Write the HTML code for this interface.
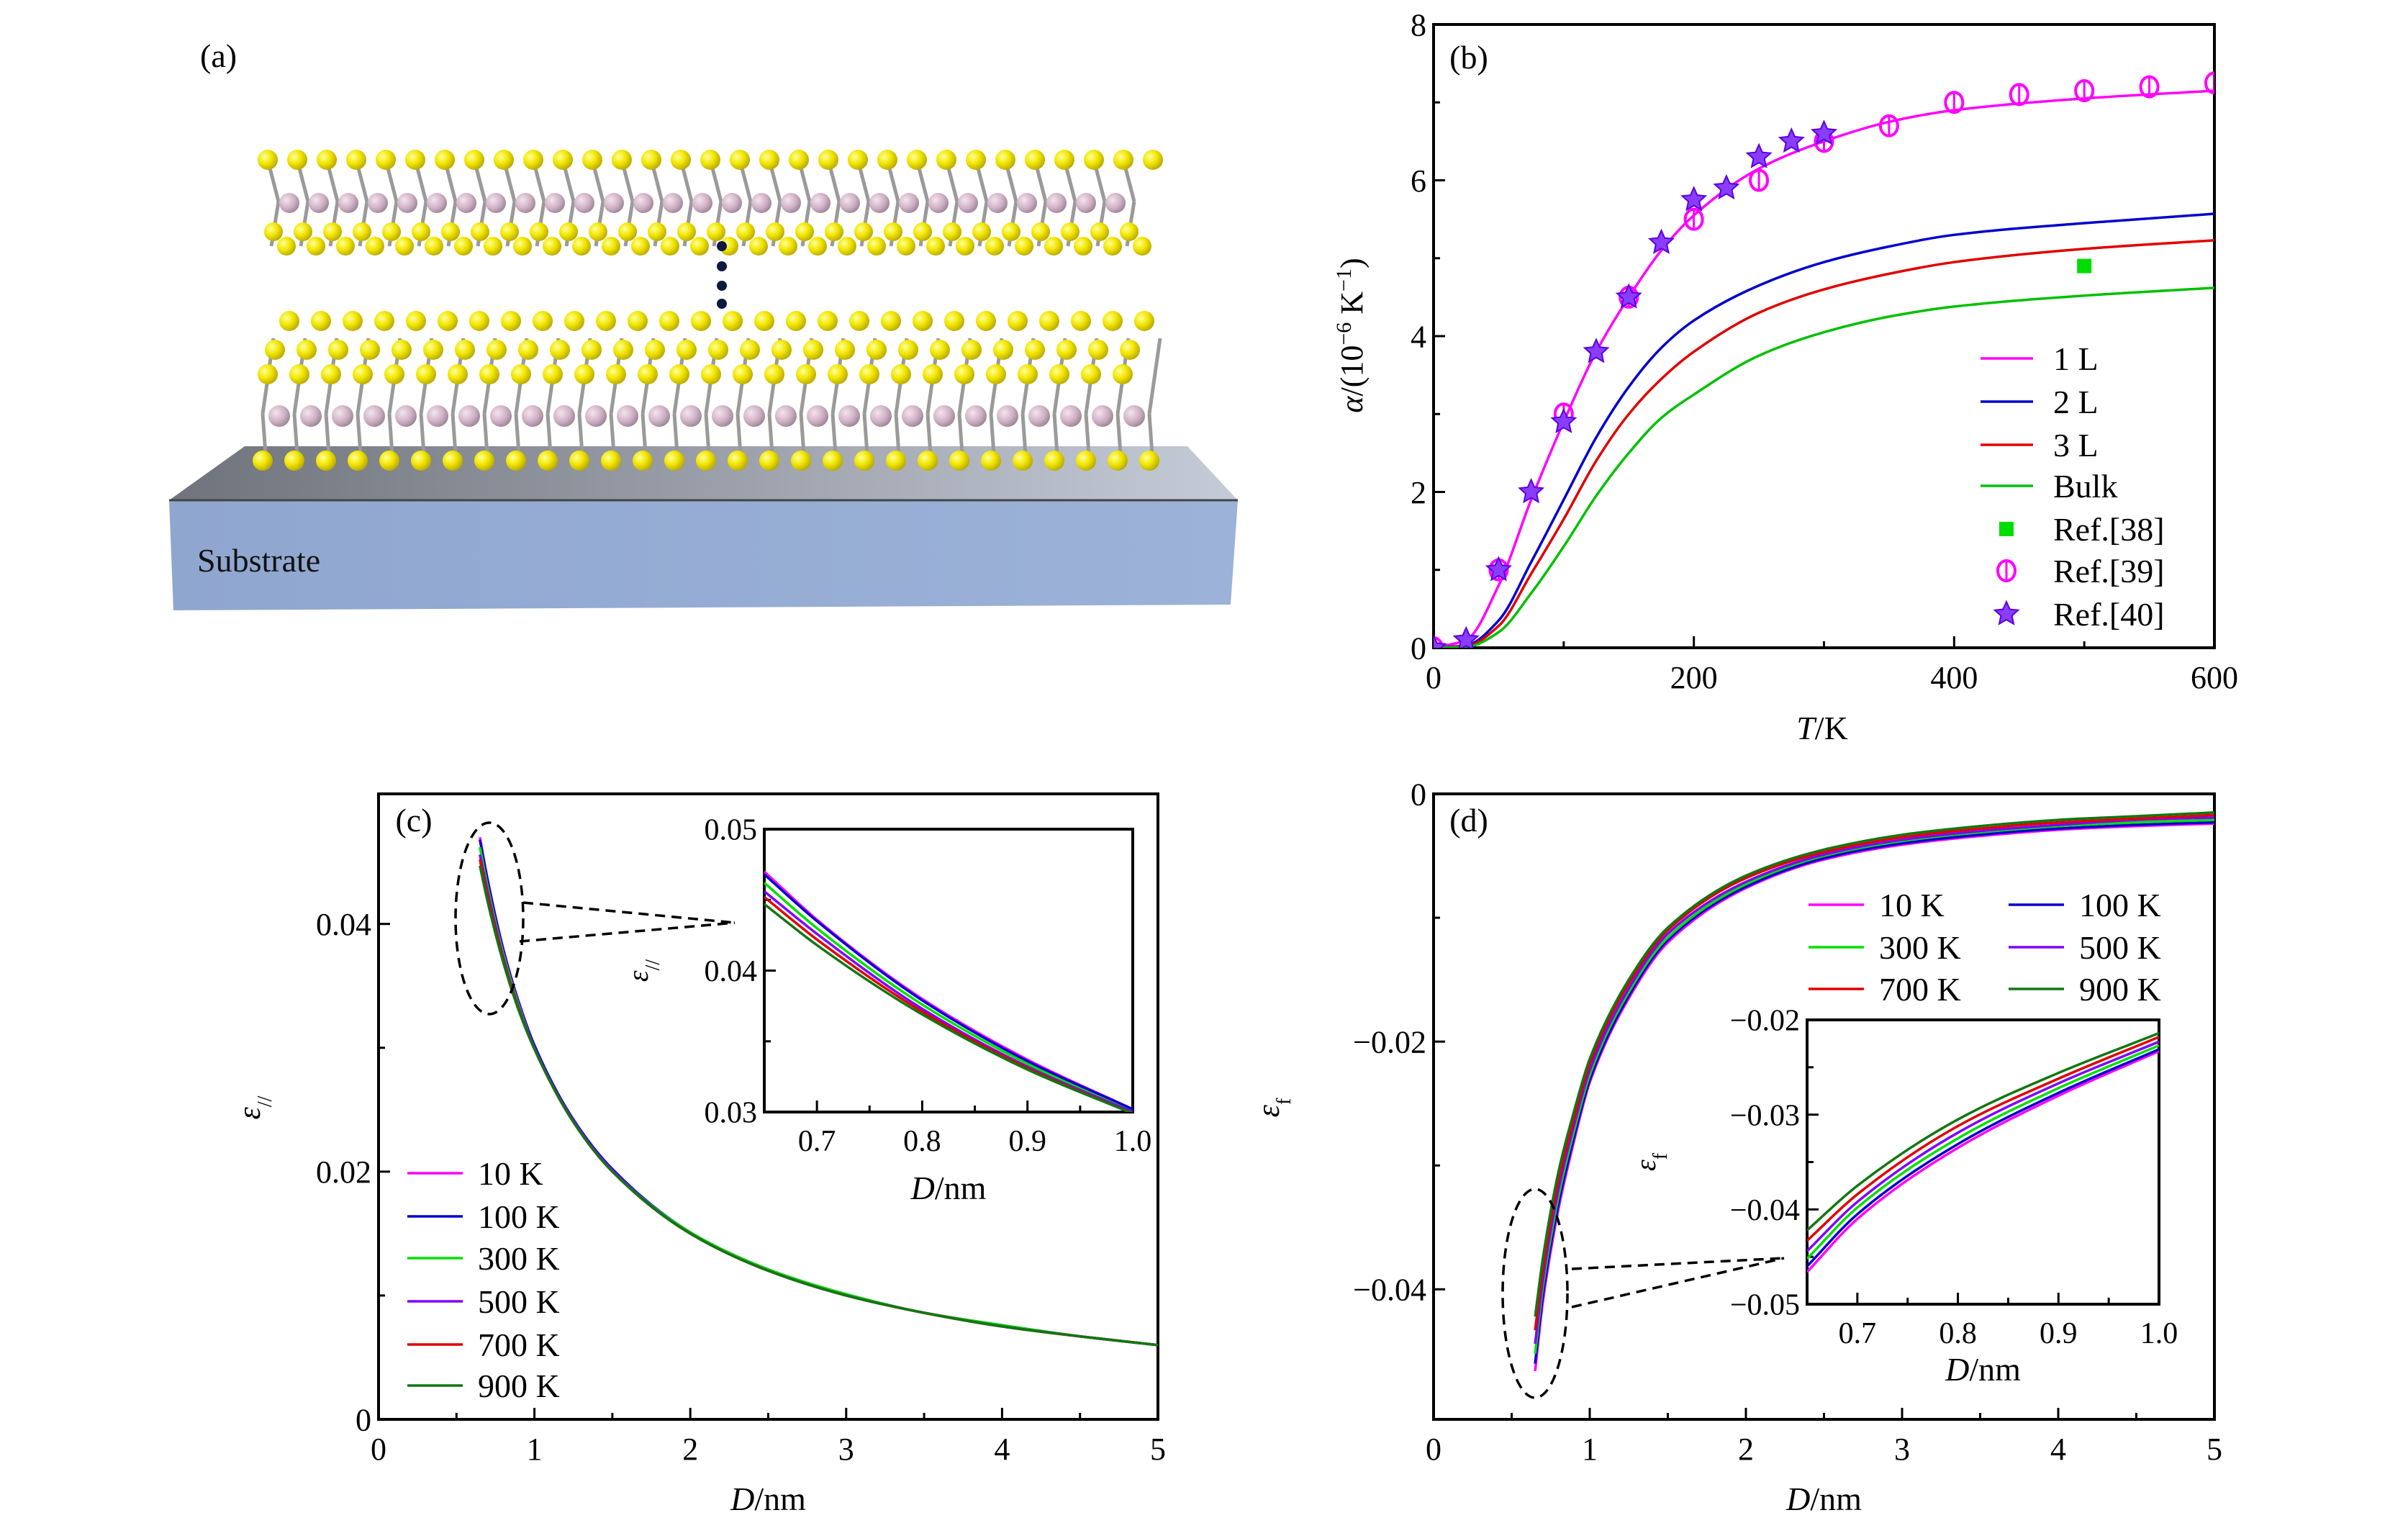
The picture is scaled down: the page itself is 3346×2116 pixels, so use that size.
<!DOCTYPE html>
<html><head><meta charset="utf-8"><style>
html,body{margin:0;padding:0;background:#fff;}
svg{display:block;font-family:"Liberation Serif",serif;}
</style></head><body>
<svg id="fig" width="3346" height="2116" viewBox="0 0 3346 2116" xmlns="http://www.w3.org/2000/svg">
<defs>
<linearGradient id="topface" x1="0" y1="0" x2="1" y2="0"><stop offset="0" stop-color="#6f737c"/><stop offset="0.5" stop-color="#9a9ea8"/><stop offset="1" stop-color="#c4ccd8"/></linearGradient>
<linearGradient id="frontface" x1="0" y1="0" x2="1" y2="0"><stop offset="0" stop-color="#8fa6cf"/><stop offset="1" stop-color="#9cb2d8"/></linearGradient>
<radialGradient id="ys" cx="0.35" cy="0.35" r="0.7"><stop offset="0" stop-color="#ffff9a"/><stop offset="0.5" stop-color="#f2e600"/><stop offset="1" stop-color="#b8a800"/></radialGradient>
<radialGradient id="ps" cx="0.35" cy="0.35" r="0.7"><stop offset="0" stop-color="#f4e4ee"/><stop offset="0.6" stop-color="#cfb0c4"/><stop offset="1" stop-color="#9c8496"/></radialGradient>
</defs>
<g id="panelA">
  <text x="278" y="93" font-size="46">(a)</text>
  <polygon points="235,695 340,620 1650,620 1720,695" fill="url(#topface)"/>
  <polygon points="235,695 1720,695 1710,840 241,848" fill="url(#frontface)"/>
  <line x1="235" y1="695" x2="1720" y2="695" stroke="#444" stroke-width="3"/>
  <text x="274" y="794" font-size="46" fill="#111">Substrate</text>
  <g id="atoms"></g>
</g>
<g id="panelB"></g>
<g id="panelC"></g>
<g id="panelD"></g>
</svg>
<script>
// ---------- data ----------
const bT = [0,25,50,75,100,125,150,175,200,250,300,350,400,500,600];
const b1L = [0,0.1,0.8,1.9,2.9,3.8,4.5,5.1,5.55,6.15,6.5,6.75,6.9,7.05,7.15];
const b2L = [0,0.03,0.35,1.1,1.9,2.7,3.35,3.85,4.2,4.65,4.95,5.15,5.3,5.45,5.57];
const b3L = [0,0.02,0.28,0.95,1.65,2.4,3.0,3.45,3.8,4.3,4.6,4.8,4.95,5.12,5.23];
const bBulk = [0,0.01,0.2,0.7,1.3,1.95,2.5,2.95,3.25,3.75,4.05,4.25,4.38,4.52,4.62];
const ref38T = [500]; const ref38V = [4.9];
const ref39T = [0,50,100,150,200,250,300,350,400,450,500,550,600];
const ref39V = [0,1,3,4.5,5.5,6,6.5,6.7,7,7.1,7.15,7.2,7.25];
const ref40T = [0,25,50,75,100,125,150,175,200,225,250,275,300];
const ref40V = [0,0.1,1,2,2.9,3.8,4.5,5.2,5.75,5.9,6.3,6.5,6.6];
const bXTicks = [0,200,400,600];
const bYTicks = [0,2,4,6,8];

const dGrid = [0.65,0.7,0.8,0.9,1,1.25,1.5,2,2.5,3,3.5,4,4.5,5];
const tempLabels = ["10 K","100 K","300 K","500 K","700 K","900 K"];
const c10 = [0.0470,0.0436,0.0380,0.0337,0.0302,0.0242,0.0202,0.0151,0.0121,0.0101,0.0086,0.0076,0.0067,0.0060];
const c100 = [0.0468,0.0435,0.0379,0.0336,0.0302,0.0242,0.0202,0.0151,0.0121,0.0101,0.0086,0.0076,0.0067,0.0060];
const c300 = [0.0462,0.0430,0.0376,0.0334,0.0300,0.0241,0.0201,0.0151,0.0121,0.0101,0.0086,0.0076,0.0067,0.0060];
const c500 = [0.0456,0.0426,0.0373,0.0332,0.0300,0.0241,0.0201,0.0150,0.0120,0.0100,0.0086,0.0075,0.0067,0.0060];
const c700 = [0.0452,0.0422,0.0371,0.0331,0.0299,0.0240,0.0200,0.0150,0.0120,0.0100,0.0086,0.0075,0.0067,0.0060];
const c900 = [0.0447,0.0418,0.0369,0.0330,0.0299,0.0240,0.0200,0.0150,0.0120,0.0100,0.0086,0.0075,0.0067,0.0060];
const d10 = [-0.0466,-0.0410,-0.0335,-0.0280,-0.0233,-0.0165,-0.0120,-0.0076,-0.0053,-0.0041,-0.0034,-0.0029,-0.0026,-0.0024];
const d100 = [-0.0460,-0.0405,-0.0331,-0.0277,-0.0231,-0.0163,-0.0118,-0.0075,-0.0052,-0.0040,-0.0033,-0.0028,-0.0025,-0.0023];
const d300 = [-0.0452,-0.0398,-0.0325,-0.0272,-0.0227,-0.0160,-0.0116,-0.0073,-0.0050,-0.0038,-0.0031,-0.0026,-0.0023,-0.0021];
const d500 = [-0.0444,-0.0392,-0.0319,-0.0267,-0.0223,-0.0157,-0.0113,-0.0071,-0.0049,-0.0037,-0.0030,-0.0025,-0.0021,-0.0019];
const d700 = [-0.0433,-0.0384,-0.0312,-0.0262,-0.0218,-0.0153,-0.0110,-0.0068,-0.0047,-0.0035,-0.0028,-0.0023,-0.0020,-0.0017];
const d900 = [-0.0422,-0.0375,-0.0305,-0.0256,-0.0214,-0.0150,-0.0108,-0.0066,-0.0045,-0.0033,-0.0026,-0.0021,-0.0018,-0.0015];
const mainXTicks = [0,1,2,3,4,5];
const insetXTicks = [0.7,0.8,0.9,1.0];
const cYTicks = [0,0.02,0.04];
const cInsetYTicks = [0.03,0.04,0.05];
const dYTicks = [-0.04,-0.02,0];
const dInsetYTicks = [-0.05,-0.04,-0.03,-0.02];

const tempColors = ["#ff00ff","#0000cc","#00e000","#7f00ff","#e00000","#117711"];
const NS = "http://www.w3.org/2000/svg";
function mk(tag, attrs, parent){const e=document.createElementNS(NS,tag);for(const k in attrs)e.setAttribute(k,attrs[k]);parent.appendChild(e);return e;}
function scale(d0,d1,r0,r1){return v=>r0+(v-d0)/(d1-d0)*(r1-r0);}
// monotone cubic (Fritsch-Carlson) in pixel space, x increasing
function smoothPath(pts){
  const n=pts.length;
  const dx=[],m=[];
  for(let i=0;i<n-1;i++){dx.push(pts[i+1][0]-pts[i][0]);m.push((pts[i+1][1]-pts[i][1])/dx[i]);}
  const t=new Array(n);
  t[0]=m[0];t[n-1]=m[n-2];
  for(let i=1;i<n-1;i++){
    if(m[i-1]*m[i]<=0)t[i]=0;
    else{const w1=2*dx[i]+dx[i-1],w2=dx[i]+2*dx[i-1];t[i]=(w1+w2)/(w1/m[i-1]+w2/m[i]);}
  }
  let s="M"+pts[0][0].toFixed(1)+","+pts[0][1].toFixed(1);
  for(let i=0;i<n-1;i++){
    const h=dx[i]/3;
    s+="C"+(pts[i][0]+h).toFixed(1)+","+(pts[i][1]+t[i]*h).toFixed(1)+" "+(pts[i+1][0]-h).toFixed(1)+","+(pts[i+1][1]-t[i+1]*h).toFixed(1)+" "+pts[i+1][0].toFixed(1)+","+pts[i+1][1].toFixed(1);
  }
  return s;
}
function fmt(v,dec){return (v<0?"\u2212":"")+Math.abs(v).toFixed(dec);}
function axes(g, L,R,T,B, sx, sy, xt, yt, xdec, ydec, fs, minorX, minorY){
  const f=mk("rect",{x:L,y:T,width:R-L,height:B-T,fill:"none",stroke:"#000","stroke-width":4},g);
  
  
  xt.forEach(v=>{const x=sx(v);mk("line",{x1:x,y1:B,x2:x,y2:B-16,stroke:"#000","stroke-width":3},g);
    const t=mk("text",{x:x,y:B+fs+12,"font-size":fs,"text-anchor":"middle"},g);t.textContent=fmt(v,xdec);
    
    });
  minorX.forEach(v=>{const x=sx(v);mk("line",{x1:x,y1:B,x2:x,y2:B-9,stroke:"#000","stroke-width":3},g);});
  yt.forEach(v=>{const y=sy(v);mk("line",{x1:L,y1:y,x2:L+16,y2:y,stroke:"#000","stroke-width":3},g);
    const t=mk("text",{x:L-10,y:y+fs*0.35,"font-size":fs,"text-anchor":"end"},g);t.textContent=(v===0?"0":fmt(v,ydec));
    
    });
  minorY.forEach(v=>{const y=sy(v);mk("line",{x1:L,y1:y,x2:L+9,y2:y,stroke:"#000","stroke-width":3},g);});
}
function label(g,x,y,txt,fs,name,rot,anchor){
  const t=mk("text",{x:x,y:y,"font-size":fs,"text-anchor":anchor||"middle"},g);
  if(rot)t.setAttribute("transform","rotate(-90 "+x+" "+y+")");
  t.innerHTML=txt;
  
  
  return t;
}
function clip(id,L,T,R,B){const svg=document.getElementById('fig');const defs=svg.querySelector('defs');const c=mk("clipPath",{id:id},defs);mk("rect",{x:L,y:T,width:R-L,height:B-T},c);}

// ---------- panel a atoms ----------
(function(){
  const g=document.getElementById('atoms');
  const bonds=mk("g",{stroke:"#9a9a9a","stroke-width":5},g);
  function atom(x,y,r,fill){mk("circle",{cx:x,cy:y,r:r,fill:fill},g);}
  for(let x=372;x<=1600;x+=41){mk("line",{x1:x,y1:222,x2:x+15,y2:280},bonds);mk("line",{x1:x+15,y1:280,x2:x+5,y2:342},bonds);}
  for(let x=392;x<=1580;x+=41)atom(x+10,282,14,"url(#ps)");
  for(let x=372;x<=1610;x+=41)atom(x,222,14,"url(#ys)");
  for(let x=380;x<=1600;x+=41){atom(x,322,13,"url(#ys)");atom(x+18,342,13,"url(#ys)");}
  [342,370,397,422].forEach(y=>mk("circle",{cx:1003,cy:y,r:7,fill:"#0c1a40"},g));
  for(let x=360;x<=1600;x+=44){mk("line",{x1:x+20,y1:470,x2:x+5,y2:575},bonds);mk("line",{x1:x+5,y1:575,x2:x+10,y2:645},bonds);}
  for(let x=372;x<=1600;x+=44){atom(x+30,446,14,"url(#ys)");atom(x+10,486,14,"url(#ys)");atom(x,520,14,"url(#ys)");}
  for(let x=380;x<=1580;x+=44){atom(x+8,578,15,"url(#ps)");}
  for(let x=365;x<=1600;x+=44){atom(x,640,14,"url(#ys)");}
})();

// ---------- panel b ----------
(function(){
  const g=document.getElementById('panelB');
  
  
  const L=1992,R=3077,T=34,B=900;
  const sx=scale(0,600,L,R), sy=scale(0,8,B,T);
  axes(g,L,R,T,B,sx,sy,bXTicks,bYTicks,0,0,44,[100,300,500],[1,3,5,7]);
  clip("clipB",L,T,R,B);
  const cg=mk("g",{"clip-path":"url(#clipB)"},g);
  const series=[[b1L,"#ff00ff","curve-1L"],[b2L,"#0000cc","curve-2L"],[b3L,"#e00000","curve-3L"],[bBulk,"#00c000","curve-bulk"]];
  series.forEach(s=>{const p=mk("path",{d:smoothPath(bT.map((t,i)=>[sx(t),sy(s[0][i])])),fill:"none",stroke:s[1],"stroke-width":3.5},cg);
    
    });
  ref38T.forEach((t,i)=>{const r=mk("rect",{x:sx(t)-10,y:sy(ref38V[i])-10,width:20,height:20,fill:"#00dd00"},cg);
    
    });
  function star(cx,cy,R1,R2){let p=[];for(let k=0;k<10;k++){const a=-Math.PI/2+k*Math.PI/5,r=k%2?R2:R1;p.push((cx+r*Math.cos(a)).toFixed(1)+","+(cy+r*Math.sin(a)).toFixed(1));}return p.join(" ");}
  function circ(g2,cx,cy,name){const c=mk("g",{},g2);mk("ellipse",{cx:cx,cy:cy,rx:12,ry:14,fill:"none",stroke:"#ff00ff","stroke-width":4},c);mk("line",{x1:cx,y1:cy-14,x2:cx,y2:cy+14,stroke:"#ff00ff","stroke-width":3},c);
    
    }
  ref39T.forEach((t,i)=>circ(cg,sx(t),sy(ref39V[i]),'ref39-point'));
  ref40T.forEach((t,i)=>{const s=mk("polygon",{points:star(sx(t),sy(ref40V[i]),17,8),fill:"#8a3cff",stroke:"#5a00e0","stroke-width":2},cg);
    
    });
  label(g,2041,95,"(b)",46,"panel-b-label",false);
  label(g,2532,1027,"<tspan font-style='italic'>T</tspan>/K",46,"x-axis-title");
  label(g,1893,466,"<tspan font-style='italic'>α</tspan>/(10<tspan baseline-shift='super' font-size='30'>−6</tspan> K<tspan baseline-shift='super' font-size='30'>−1</tspan>)",44,"y-axis-title",true);
  const lg=mk("g",{},g);
  
  
  const ly=[498,558,618,675,735,793,853];
  const names=["1 L","2 L","3 L","Bulk","Ref.[38]","Ref.[39]","Ref.[40]"];
  const cols=["#ff00ff","#0000cc","#e00000","#00c000"];
  names.forEach((n,i)=>{
    if(i<4)mk("line",{x1:2752,y1:ly[i],x2:2825,y2:ly[i],stroke:cols[i],"stroke-width":3.5},lg);
    else if(i===4)mk("rect",{x:2778,y:ly[i]-10,width:20,height:20,fill:"#00dd00"},lg);
    else if(i===5)circ(lg,2788,ly[i],'legend-ref39-marker');
    else mk("polygon",{points:star(2788,ly[i],17,8),fill:"#8a3cff",stroke:"#5a00e0","stroke-width":2},lg);
    const t=mk("text",{x:2853,y:ly[i]+16,"font-size":46},lg);t.textContent=n;
    
    
  });
})();

function strainPanel(gid, L,R,T,B, y0,y1, yTicks,minorY, series, ydec, letter, ylab, legendPos, inset){
  const g=document.getElementById(gid);
  const sx=scale(0,5,L,R), sy=scale(y0,y1,B,T);
  axes(g,L,R,T,B,sx,sy,mainXTicks,yTicks,0,ydec,44,[0.5,1.5,2.5,3.5,4.5],minorY);
  clip("clip"+gid,L,T,R,B);
  const cg=mk("g",{"clip-path":"url(#clip"+gid+")"},g);
  series.forEach((s,k)=>{const p=mk("path",{d:smoothPath(dGrid.map((d,i)=>[sx(d),sy(s[i])])),fill:"none",stroke:tempColors[k],"stroke-width":3.5},cg);
    
    });
  label(g,L+49,T+52,"("+letter+")",46,"panel-"+letter+"-label",false);
  label(g,(L+R)/2,2098,"<tspan font-style='italic'>D</tspan>/nm",46,"x-axis-title");
  label(g,L-(letter==='c'?165:215),1539,ylab,44,"y-axis-title",true);
  const lg=mk("g",{},g);
  
  
  legendPos.forEach((p,k)=>{mk("line",{x1:p[0],y1:p[1],x2:p[0]+77,y2:p[1],stroke:tempColors[k],"stroke-width":3.5},lg);
    const t=mk("text",{x:p[0]+98,y:p[1]+16,"font-size":46},lg);t.textContent=tempLabels[k];
    
    });
  const e=inset.ell;
  const el=mk("ellipse",{cx:e[0],cy:e[1],rx:e[2],ry:e[3],fill:"none",stroke:"#000","stroke-width":3.5,"stroke-dasharray":"14 9"},g);
  
  
  inset.lines.forEach(l=>mk("line",{x1:l[0],y1:l[1],x2:l[2],y2:l[3],stroke:"#000","stroke-width":3.5,"stroke-dasharray":"14 9"},g));
  const ig=mk("g",{},g);
  
  
  const [iL,iR,iT,iB]=inset.box;
  mk("rect",{x:iL,y:iT,width:iR-iL,height:iB-iT,fill:"#fff"},ig);
  const isx=scale(0.65,1.0,iL,iR), isy=scale(inset.yr[0],inset.yr[1],iB,iT);
  const minY=[];for(let i=0;i<inset.ticks.length-1;i++)minY.push((inset.ticks[i]+inset.ticks[i+1])/2);
  axes(ig,iL,iR,iT,iB,isx,isy,insetXTicks,inset.ticks,1,2,42,[0.75,0.85,0.95],minY);
  clip("iclip"+gid,iL,iT,iR,iB);
  const icg=mk("g",{"clip-path":"url(#iclip"+gid+")"},ig);
  const n=5;
  series.forEach((s,k)=>{const p=mk("path",{d:smoothPath(dGrid.slice(0,n).map((d,i)=>[isx(d),isy(s[i])])),fill:"none",stroke:tempColors[k],"stroke-width":3.5},icg);
    
    });
  label(ig,(iL+iR)/2,inset.xlabY,"<tspan font-style='italic'>D</tspan>/nm",46,"inset-x-axis-title");
  label(ig,inset.ylabX,(iT+iB)/2,ylab,40,"inset-y-axis-title",true);
}

strainPanel('panelC',526,1609,1103,1972,0,0.0505,cYTicks,[0.01,0.03],[c10,c100,c300,c500,c700,c900],2,'c',
  "<tspan font-style='italic'>ε</tspan><tspan baseline-shift='sub' font-size='28'>//</tspan>",
  [[566,1630],[566,1690],[566,1748],[566,1808],[566,1868],[566,1925]],
  {ell:[680,1276,47,133],lines:[[727,1254,1021,1282],[722,1308,1021,1282]],box:[1062,1574,1152,1545],yr:[0.03,0.05],ticks:cInsetYTicks,xlabY:1666,ylabX:900});
strainPanel('panelD',1992,3077,1103,1972,-0.0505,0,dYTicks,[-0.03,-0.01],[d10,d100,d300,d500,d700,d900],2,'d',
  "<tspan font-style='italic'>ε</tspan><tspan baseline-shift='sub' font-size='28'>f</tspan>",
  [[2513,1257],[2791,1257],[2513,1316],[2791,1316],[2513,1374],[2791,1374]],
  {ell:[2133,1797,45,145],lines:[[2184,1763,2479,1748],[2184,1816,2479,1748]],box:[2511,3000,1417,1812],yr:[-0.05,-0.02],ticks:dInsetYTicks,xlabY:1918,ylabX:2300});
document.getElementById('panelC');
document.getElementById('panelC');
document.getElementById('panelD');
document.getElementById('panelD');
</script>
</body></html>
